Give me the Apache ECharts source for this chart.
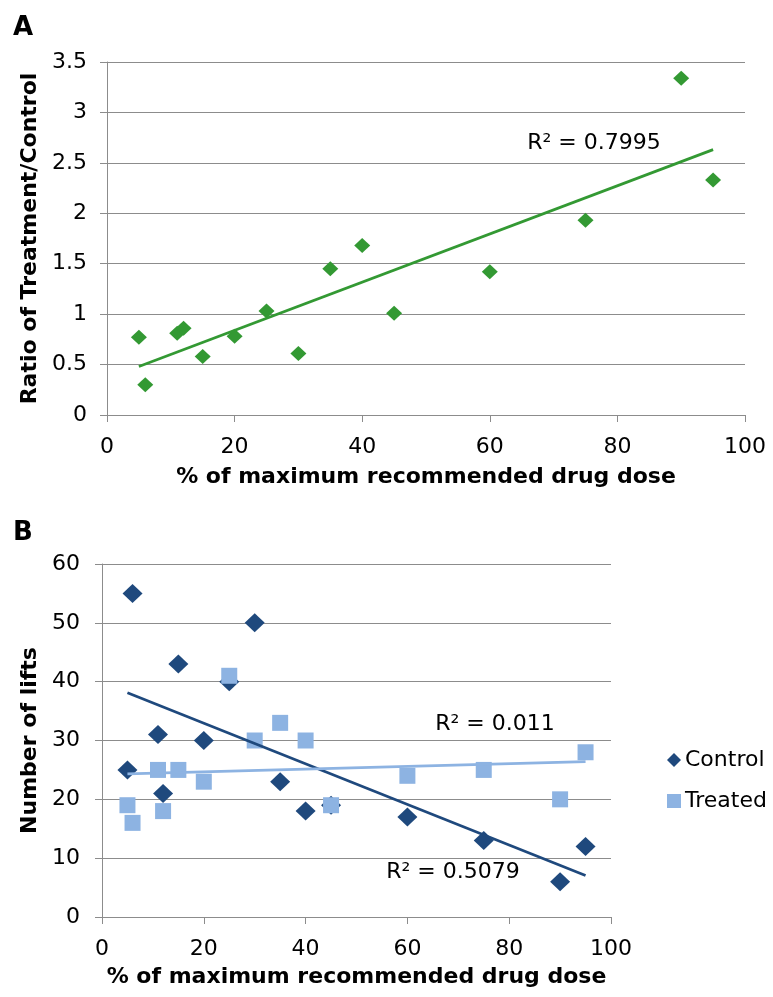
<!DOCTYPE html>
<html>
<head>
<meta charset="utf-8">
<script src="https://cdn.jsdelivr.net/npm/echarts@6/dist/echarts.min.js"></script>
<style>
html,body{margin:0;padding:0;background:#fff;}
#c{width:773px;height:997px;}
</style>
</head>
<body>
<div id="c"></div>
<script>
// Panel A data
const doseA = [5, 6, 11, 12, 15, 20, 25, 30, 35, 40, 45, 60, 75, 90, 95];
const ratioA = [0.77, 0.30, 0.81, 0.86, 0.58, 0.78, 1.03, 0.61, 1.45, 1.68, 1.01, 1.42, 1.93, 3.34, 2.33];
// Panel B data
const doseB = [5, 6, 11, 12, 15, 20, 25, 30, 35, 40, 45, 60, 75, 90, 95];
const controlB = [25, 55, 31, 21, 43, 30, 40, 50, 23, 18, 19, 17, 13, 6, 12];
const treatedB = [19, 16, 25, 18, 25, 23, 41, 30, 33, 30, 19, 24, 25, 20, 28];
// labels
const seriesNames = ['Control', 'Treated'];
const r2Labels = ['R\u00b2 = 0.7995', 'R\u00b2 = 0.011', 'R\u00b2 = 0.5079'];
const xTitle = '% of maximum recommended drug dose';
const yTitleA = 'Ratio of Treatment/Control';
const yTitleB = 'Number of lifts';

function zip(xs, ys) { return xs.map((x, i) => [x, ys[i]]); }
function trend(xs, ys) {
  const n = xs.length;
  const mx = xs.reduce((a, b) => a + b, 0) / n;
  const my = ys.reduce((a, b) => a + b, 0) / n;
  let sxy = 0, sxx = 0;
  for (let i = 0; i < n; i++) { sxy += (xs[i] - mx) * (ys[i] - my); sxx += (xs[i] - mx) * (xs[i] - mx); }
  const b = sxy / sxx, a = my - b * mx;
  const x0 = Math.min(...xs), x1 = Math.max(...xs);
  return [[x0, a + b * x0], [x1, a + b * x1]];
}

const FONT = 'DejaVu Sans';
const GRAY = '#8c8c8c';
const GREEN = '#339933';
const NAVY = '#1F497D';
const LIGHT = '#8DB3E2';

function xAxisCfg(gridIndex, gap) {
  return {
    type: 'value', gridIndex: gridIndex, min: 0, max: 100, interval: 20,
    name: xTitle, nameLocation: 'middle', nameGap: gap,
    nameTextStyle: { fontFamily: FONT, fontWeight: 'bold', fontSize: 22, color: '#000' },
    axisLine: { show: true, lineStyle: { color: GRAY, width: 1 } },
    axisTick: { show: true, inside: false, length: 7, lineStyle: { color: GRAY } },
    axisLabel: { margin: 21, fontFamily: FONT, fontSize: 22, color: '#000' },
    splitLine: { show: false }
  };
}
function yAxisCfg(gridIndex, max, interval, name, gap, margin) {
  return {
    type: 'value', gridIndex: gridIndex, min: 0, max: max, interval: interval,
    name: name, nameLocation: 'middle', nameGap: gap,
    nameTextStyle: { fontFamily: FONT, fontWeight: 'bold', fontSize: 22, color: '#000' },
    axisLine: { show: true, lineStyle: { color: GRAY, width: 1 } },
    axisTick: { show: true, inside: false, length: 7, lineStyle: { color: GRAY } },
    axisLabel: { margin: margin, fontFamily: FONT, fontSize: 22, color: '#000' },
    splitLine: { show: true, lineStyle: { color: GRAY, width: 1 } }
  };
}

const chart = echarts.init(document.getElementById('c'), null, { renderer: 'canvas' });
chart.setOption({
  animation: false,
  backgroundColor: '#fff',
  grid: [
    { left: 107, top: 62, width: 638, height: 353 },
    { left: 102, top: 564, width: 509, height: 353 }
  ],
  xAxis: [xAxisCfg(0, 51), xAxisCfg(1, 49)],
  yAxis: [
    yAxisCfg(0, 3.5, 0.5, yTitleA, 61, 20),
    yAxisCfg(1, 60, 10, yTitleB, 57, 22)
  ],
  legend: {
    data: [
      { name: seriesNames[0], icon: 'diamond' },
      { name: seriesNames[1], icon: 'rect' }
    ],
    orient: 'vertical', left: 667, top: 749, padding: 0,
    itemWidth: 14, itemHeight: 14, itemGap: 19,
    itemStyle: { opacity: 1 },
    textStyle: { fontFamily: FONT, fontSize: 22, color: '#000', padding: [0, 0, 0, -1] },
    selectedMode: false
  },
  graphic: [
    { type: 'text', left: 13, top: 15, style: { text: 'A', font: 'bold 26px "DejaVu Sans"', fill: '#000' } },
    { type: 'text', left: 13, top: 520, style: { text: 'B', font: 'bold 26px "DejaVu Sans"', fill: '#000' } },
    { type: 'text', x: 594, y: 143, style: { text: r2Labels[0], font: '22px "DejaVu Sans"', fill: '#000', align: 'center', verticalAlign: 'middle' } },
    { type: 'text', x: 495, y: 724, style: { text: r2Labels[1], font: '22px "DejaVu Sans"', fill: '#000', align: 'center', verticalAlign: 'middle' } },
    { type: 'text', x: 453, y: 872, style: { text: r2Labels[2], font: '22px "DejaVu Sans"', fill: '#000', align: 'center', verticalAlign: 'middle' } }
  ],
  series: [
    {
      type: 'scatter', name: 'Ratio', xAxisIndex: 0, yAxisIndex: 0,
      data: zip(doseA, ratioA), symbol: 'diamond', symbolSize: [16, 15],
      itemStyle: { color: GREEN, opacity: 1 }, z: 3
    },
    {
      type: 'line', name: 'TrendA', xAxisIndex: 0, yAxisIndex: 0,
      data: trend(doseA, ratioA), showSymbol: false, symbol: 'none', silent: true,
      lineStyle: { color: GREEN, width: 2.75 }, z: 5
    },
    {
      type: 'scatter', name: seriesNames[0], xAxisIndex: 1, yAxisIndex: 1,
      data: zip(doseB, controlB), symbol: 'diamond', symbolSize: [20, 19],
      itemStyle: { color: NAVY, opacity: 1 }, z: 3
    },
    {
      type: 'scatter', name: seriesNames[1], xAxisIndex: 1, yAxisIndex: 1,
      data: zip(doseB, treatedB), symbol: 'rect', symbolSize: 16,
      itemStyle: { color: LIGHT, opacity: 1 }, z: 4
    },
    {
      type: 'line', name: 'TrendControl', xAxisIndex: 1, yAxisIndex: 1,
      data: trend(doseB, controlB), showSymbol: false, symbol: 'none', silent: true,
      lineStyle: { color: NAVY, width: 2.75 }, z: 5
    },
    {
      type: 'line', name: 'TrendTreated', xAxisIndex: 1, yAxisIndex: 1,
      data: trend(doseB, treatedB), showSymbol: false, symbol: 'none', silent: true,
      lineStyle: { color: LIGHT, width: 2.75 }, z: 5
    }
  ]
});
</script>
</body>
</html>
